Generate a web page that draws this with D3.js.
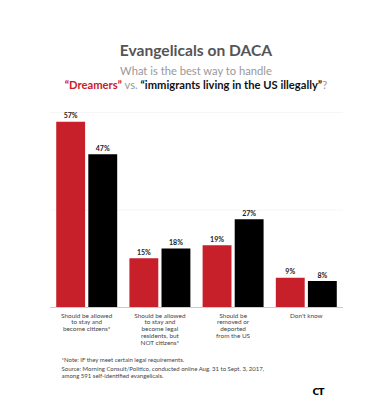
<!DOCTYPE html>
<html><head><meta charset="utf-8">
<script src="https://cdn.jsdelivr.net/npm/d3@7"></script>
<style>body{margin:0;background:#fff}svg{display:block}</style>
</head><body>
<script>
const categories = [
  ["Should be allowed","to stay and","become citizens*"],
  ["Should be allowed","to stay and","become legal","residents, but","NOT citizens*"],
  ["Should be","removed or","deported","from the US"],
  ["Don't know"]
];
const seriesNames = ["Dreamers","Immigrants living in the US illegally"];
const dreamers = [57, 15, 19, 9];
const illegal = [47, 18, 27, 8];
const gridTicks = [0, 30, 60];

const W = 380, H = 414;
const svg = d3.select("body").append("svg").attr("width", W).attr("height", H);
const font = "Lato, 'Open Sans', sans-serif";
const red = "#c8202a";

svg.append("text").attr("x", 196).attr("y", 56).attr("text-anchor","middle")
  .attr("font-family", font).attr("font-weight", 700).attr("font-size", 15.6)
  .attr("fill", "#555").text("Evangelicals on DACA");
svg.append("text").attr("x", 196).attr("y", 75).attr("text-anchor","middle")
  .attr("font-family", font).attr("font-size", 11.2).attr("fill", "#999")
  .text("What is the best way to handle");
const sub2 = svg.append("text").attr("x", 196).attr("y", 88.5).attr("text-anchor","middle")
  .attr("font-family", font).attr("font-size", 11.2).attr("fill", "#999");
sub2.append("tspan").attr("fill", red).attr("font-weight", 700).text("\u201CDreamers\u201D");
sub2.append("tspan").text(" vs. ");
sub2.append("tspan").attr("fill", "#111").attr("font-weight", 700).text("\u201Cimmigrants living in the US illegally\u201D");
sub2.append("tspan").text("?");

const idx = d3.range(categories.length);
const x0 = d3.scaleBand().domain(idx).range([50, 343]).paddingInner(0.167).paddingOuter(0.085);
const x1 = d3.scaleBand().domain([0,1]).range([0, x0.bandwidth()]).paddingInner(0.1);
const y = d3.scaleLinear().domain([0, 60]).range([307, 112]);

svg.append("g").selectAll("line").data(gridTicks.filter(d => d > 0)).join("line")
  .attr("x1", 50).attr("x2", 343).attr("y1", d => y(d) + 0.5).attr("y2", d => y(d) + 0.5)
  .attr("stroke", "#f6f6f6").attr("stroke-width", 1);

const series = [dreamers, illegal];
const colors = [red, "#000"];
const g = svg.append("g");
series.forEach((vals, s) => {
  g.append("g").selectAll("rect").data(vals).join("rect")
    .attr("x", (d, i) => x0(i) + x1(s)).attr("width", x1.bandwidth())
    .attr("y", d => y(d)).attr("height", d => y(0) - y(d))
    .attr("fill", colors[s]);
  g.append("g").selectAll("text").data(vals).join("text")
    .attr("x", (d, i) => x0(i) + x1(s) + x1.bandwidth()/2)
    .attr("y", d => y(d) - 3.5).attr("text-anchor", "middle")
    .attr("font-family", font).attr("font-weight", 700).attr("font-size", 7)
    .attr("fill", "#222").text(d => d + "%");
});

svg.append("line").attr("x1", 50).attr("x2", 343).attr("y1", y(0) + 0.5).attr("y2", y(0) + 0.5)
  .attr("stroke", "#ccc").attr("stroke-width", 1.2);

const cl = svg.append("g");
categories.forEach((lines, i) => {
  const t = cl.append("text").attr("text-anchor", "middle")
    .attr("font-family", font).attr("font-size", 6.4).attr("fill", "#444");
  lines.forEach((ln, j) => {
    t.append("tspan").attr("x", x0(i) + x0.bandwidth()/2).attr("y", 317.5 + j * 6.8).text(ln);
  });
});

const notes = [
  ["*Note: IF they meet certain legal requirements.", 362],
  ["Source: Morning Consult/Politico, conducted online Aug. 31 to Sept. 3, 2017,", 371.3],
  ["among 591 self-identified evangelicals.", 377.9]
];
svg.append("g").selectAll("text").data(notes).join("text")
  .attr("x", 61.5).attr("y", d => d[1]).attr("font-family", font)
  .attr("font-size", 6.0).attr("fill", "#444").text(d => d[0]);

svg.append("text").attr("x", 312.5).attr("y", 394.5).attr("font-family", "'DejaVu Sans', sans-serif")
  .attr("font-weight", 900).attr("font-size", 9).attr("fill", "#000")
  .attr("letter-spacing", -0.8).text("CT");
</script>
</body></html>
